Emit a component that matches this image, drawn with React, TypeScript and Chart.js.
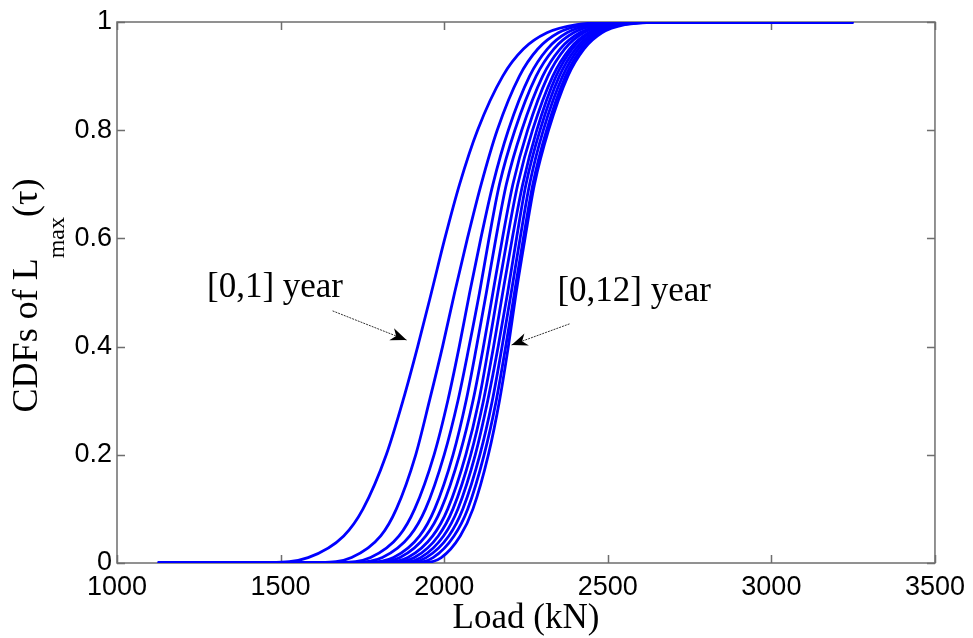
import React, { useEffect, useRef } from "react";
import { Chart, registerables } from "chart.js";

Chart.register(...registerables);

// CDF levels shared by all curves
const cdfLevels = [0, 0.001, 0.01, 0.05, 0.1, 0.2, 0.3, 0.4, 0.5, 0.6, 0.7, 0.8, 0.9, 0.95, 0.98, 0.995, 0.9995, 1];

// Load (kN) at which each period's CDF reaches the levels above
const load1 = [1125, 1460, 1584, 1693, 1752, 1823, 1874, 1919, 1961, 2002, 2047, 2102, 2179, 2242, 2314, 2405, 2529, 3250];
const load2 = [1125, 1622, 1717, 1806, 1854, 1913, 1955, 1995, 2032, 2071, 2113, 2162, 2230, 2286, 2349, 2430, 2540, 3250];
const load3 = [1125, 1683, 1775, 1862, 1910, 1969, 2011, 2046, 2078, 2112, 2149, 2196, 2261, 2315, 2375, 2452, 2558, 3250];
const load4 = [1125, 1725, 1811, 1895, 1943, 2000, 2042, 2076, 2108, 2137, 2169, 2216, 2281, 2335, 2395, 2472, 2578, 3250];
const load5 = [1125, 1765, 1845, 1925, 1971, 2027, 2067, 2099, 2129, 2158, 2190, 2237, 2301, 2354, 2414, 2491, 2590, 3250];
const load6 = [1125, 1787, 1865, 1944, 1991, 2047, 2088, 2120, 2149, 2178, 2210, 2255, 2317, 2368, 2426, 2500, 2601, 3250];
const load7 = [1125, 1816, 1889, 1965, 2011, 2066, 2106, 2136, 2164, 2193, 2225, 2270, 2332, 2383, 2441, 2515, 2610, 3250];
const load8 = [1125, 1841, 1909, 1982, 2027, 2081, 2120, 2151, 2179, 2208, 2240, 2283, 2342, 2391, 2446, 2516, 2612, 3250];
const load9 = [1125, 1865, 1928, 1998, 2042, 2095, 2133, 2165, 2194, 2221, 2250, 2293, 2352, 2401, 2456, 2526, 2622, 3250];
const load10 = [1125, 1886, 1945, 2014, 2057, 2109, 2147, 2177, 2205, 2232, 2261, 2303, 2362, 2410, 2465, 2535, 2630, 3250];
const load11 = [1125, 1911, 1966, 2030, 2072, 2122, 2159, 2188, 2215, 2242, 2271, 2313, 2371, 2419, 2473, 2542, 2636, 3250];
const load12 = [1125, 1942, 1991, 2049, 2088, 2135, 2169, 2196, 2220, 2247, 2276, 2319, 2378, 2427, 2482, 2552, 2648, 3250];

const periodLabels = ["[0,1] year", "[0,2] year", "[0,3] year", "[0,4] year", "[0,5] year", "[0,6] year",
  "[0,7] year", "[0,8] year", "[0,9] year", "[0,10] year", "[0,11] year", "[0,12] year"];
const periodLoads = [load1, load2, load3, load4, load5, load6, load7, load8, load9, load10, load11, load12];

const xTickValues = [1000, 1500, 2000, 2500, 3000, 3500];
const yTickValues = [0, 0.2, 0.4, 0.6, 0.8, 1];

const xTitle = "Load (kN)";
const yTitleMain = "CDFs of L";
const yTitleSub = "max";
const yTitleTail = "(\u03c4)";

// annotation anchors in data coordinates
const annotations = [
  { text: "[0,1] year", tx: 1275, ty: 0.492, fromX: 1659, fromY: 0.466, toX: 1885, toY: 0.412 },
  { text: "[0,12] year", tx: 2346, ty: 0.484, fromX: 2383, fromY: 0.442, toX: 2206, toY: 0.403 },
];

const SANS = "'Liberation Sans', Arial, sans-serif";
const SERIF = "'Liberation Serif', 'Times New Roman', serif";
const AXIS_COLOR = "#6e6e6e";

function drawArrowHead(ctx: CanvasRenderingContext2D, x0: number, y0: number, x1: number, y1: number) {
  const dx = x1 - x0, dy = y1 - y0;
  const len = Math.hypot(dx, dy);
  const ux = dx / len, uy = dy / len;
  const nx = -uy, ny = ux;
  const L = 16, W = 6.5;
  ctx.beginPath();
  ctx.moveTo(x1, y1);
  ctx.lineTo(x1 - ux * L + nx * W, y1 - uy * L + ny * W);
  ctx.lineTo(x1 - ux * L * 0.7, y1 - uy * L * 0.7);
  ctx.lineTo(x1 - ux * L - nx * W, y1 - uy * L - ny * W);
  ctx.closePath();
  ctx.fill();
}

const framePlugin = {
  id: "matlabFrame",
  beforeDatasetsDraw(chart: any) {
    const { ctx, chartArea: a, scales } = chart;
    ctx.save();
    ctx.strokeStyle = AXIS_COLOR;
    ctx.lineWidth = 1.5;
    ctx.beginPath();
    for (const v of xTickValues) {
      const px = Math.round(scales.x.getPixelForValue(v)) + 0.5;
      ctx.moveTo(px, a.bottom);
      ctx.lineTo(px, a.bottom - 8);
      ctx.moveTo(px, a.top);
      ctx.lineTo(px, a.top + 8);
    }
    for (const v of yTickValues) {
      const py = Math.round(scales.y.getPixelForValue(v)) + 0.5;
      ctx.moveTo(a.left, py);
      ctx.lineTo(a.left + 8, py);
      ctx.moveTo(a.right, py);
      ctx.lineTo(a.right - 8, py);
    }
    ctx.stroke();
    ctx.strokeRect(a.left, a.top, a.right - a.left, a.bottom - a.top);
    ctx.restore();
  },
  afterDatasetsDraw(chart: any) {
    const { ctx, scales } = chart;
    ctx.save();
    ctx.font = `35px ${SERIF}`;
    ctx.fillStyle = "#000";
    ctx.textAlign = "left";
    ctx.textBaseline = "alphabetic";
    for (const an of annotations) {
      ctx.fillText(an.text, scales.x.getPixelForValue(an.tx), scales.y.getPixelForValue(an.ty));
      const x0 = scales.x.getPixelForValue(an.fromX), y0 = scales.y.getPixelForValue(an.fromY);
      const x1 = scales.x.getPixelForValue(an.toX), y1 = scales.y.getPixelForValue(an.toY);
      ctx.strokeStyle = "#333";
      ctx.lineWidth = 1;
      ctx.setLineDash([2, 1]);
      ctx.beginPath();
      ctx.moveTo(x0, y0);
      ctx.lineTo(x1, y1);
      ctx.stroke();
      ctx.setLineDash([]);
      ctx.fillStyle = "#000";
      drawArrowHead(ctx, x0, y0, x1, y1);
    }
    ctx.restore();
  },
  afterDraw(chart: any) {
    const { ctx, chartArea: a } = chart;
    ctx.save();
    ctx.fillStyle = "#000";
    // x title
    ctx.font = `35px ${SERIF}`;
    ctx.textAlign = "center";
    ctx.textBaseline = "alphabetic";
    ctx.fillText(xTitle, (a.left + a.right) / 2, 628);
    // y title with subscript
    ctx.textAlign = "left";
    ctx.font = `36px ${SERIF}`;
    const w1 = ctx.measureText(yTitleMain).width;
    const w3 = ctx.measureText(yTitleTail).width;
    ctx.font = `24px ${SERIF}`;
    const w2 = ctx.measureText(yTitleSub).width;
    const total = w1 + w2 + w3;
    const cy = (a.top + a.bottom) / 2 + 3;
    ctx.translate(37, cy + total / 2);
    ctx.rotate(-Math.PI / 2);
    ctx.font = `36px ${SERIF}`;
    ctx.fillText(yTitleMain, 0, 0);
    ctx.font = `24px ${SERIF}`;
    ctx.fillText(yTitleSub, w1, 27);
    ctx.font = `36px ${SERIF}`;
    ctx.fillText(yTitleTail, w1 + w2, 0);
    ctx.restore();
  },
};

export default function App() {
  const canvasRef = useRef<HTMLCanvasElement | null>(null);

  useEffect(() => {
    const canvas = canvasRef.current;
    if (!canvas) return;
    const datasets = periodLoads.map((loads, i) => ({
      label: periodLabels[i],
      data: loads.map((x, j) => ({ x, y: cdfLevels[j] })),
      borderColor: "#0000ff",
      backgroundColor: "#0000ff",
      borderWidth: 2.8,
      pointRadius: 0,
      fill: false,
      cubicInterpolationMode: "monotone" as const,
    }));
    const chart = new Chart(canvas, {
      type: "line",
      data: { datasets },
      options: {
        animation: false,
        responsive: false,
        events: [],
        layout: { padding: { top: 22, right: 37, left: 0, bottom: 0 } },
        plugins: { legend: { display: false }, tooltip: { enabled: false } },
        scales: {
          x: {
            type: "linear",
            min: 1000,
            max: 3500,
            afterBuildTicks: (scale: any) => {
              scale.ticks = xTickValues.map((v) => ({ value: v }));
            },
            afterFit: (scale: any) => {
              scale.height = 75;
            },
            grid: { display: false, drawTicks: false },
            border: { display: false },
            ticks: {
              color: "#000",
              font: { family: SANS, size: 27 },
              padding: 8,
              maxRotation: 0,
              autoSkip: false,
              callback: (v: any) => String(v),
            },
          },
          y: {
            type: "linear",
            min: 0,
            max: 1,
            afterBuildTicks: (scale: any) => {
              scale.ticks = yTickValues.map((v) => ({ value: v }));
            },
            afterFit: (scale: any) => {
              scale.width = 117;
            },
            grid: { display: false, drawTicks: false },
            border: { display: false },
            ticks: {
              color: "#000",
              font: { family: SANS, size: 27 },
              padding: 5,
              autoSkip: false,
              callback: (v: any) => String(Math.round(v * 10) / 10),
            },
          },
        },
      },
      plugins: [framePlugin],
    });
    return () => chart.destroy();
  }, []);

  return (
    <div style={{ position: "fixed", left: 0, top: 0, width: 973, height: 638, background: "#fff" }}>
      <canvas ref={canvasRef} width={973} height={638} style={{ display: "block" }} />
    </div>
  );
}
